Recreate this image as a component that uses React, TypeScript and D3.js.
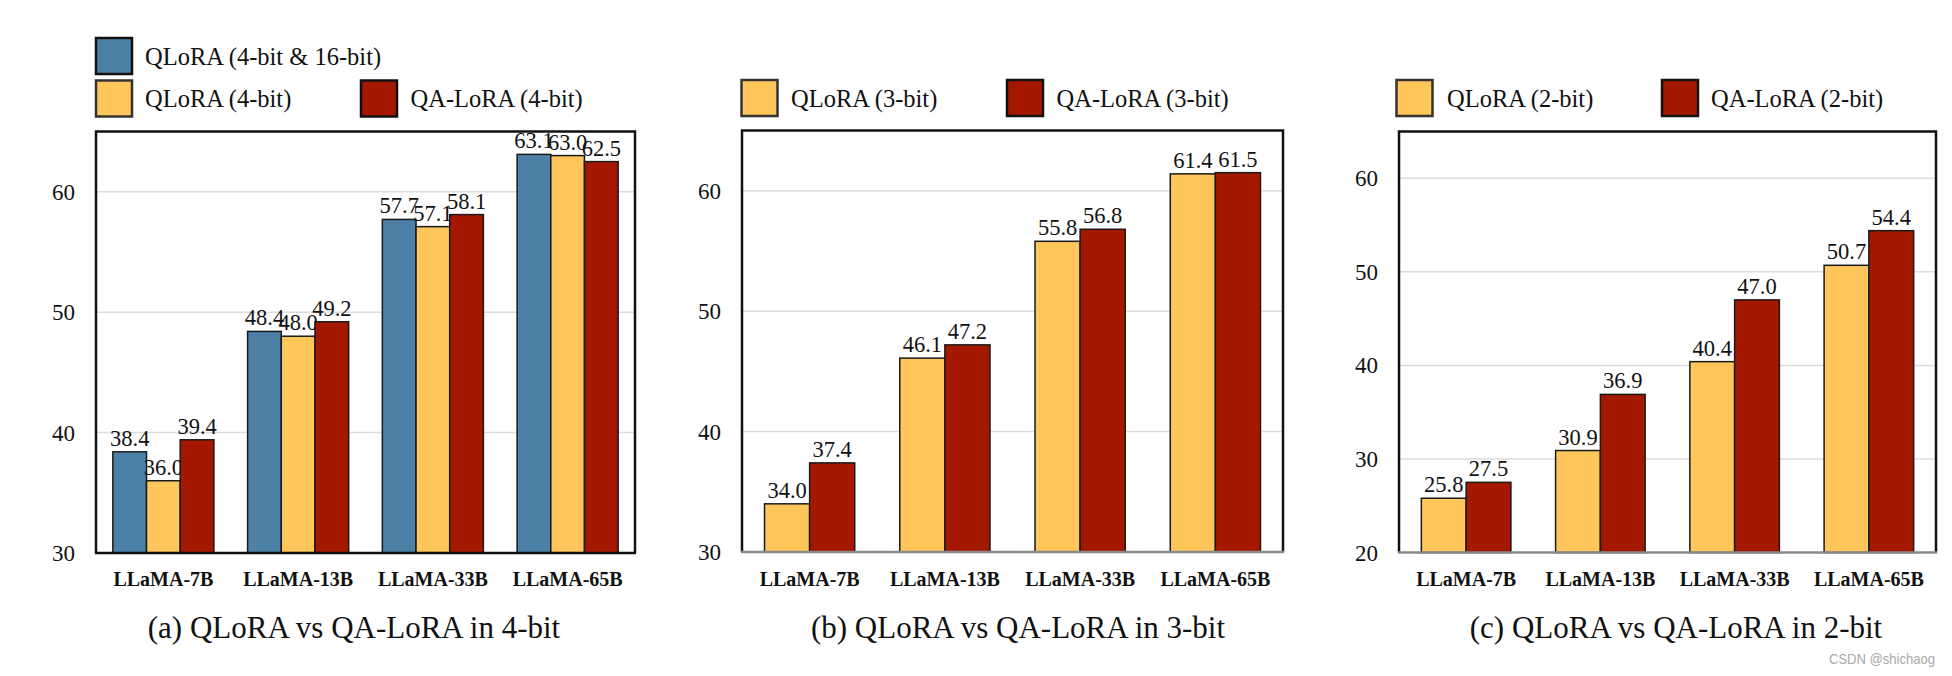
import React from 'react';
import * as d3 from 'd3';

const categories = ['LLaMA-7B', 'LLaMA-13B', 'LLaMA-33B', 'LLaMA-65B'];

const qlora4and16 = [38.4, 48.4, 57.7, 63.1];
const qlora4 = [36.0, 48.0, 57.1, 63.0];
const qalora4 = [39.4, 49.2, 58.1, 62.5];

const qlora3 = [34.0, 46.1, 55.8, 61.4];
const qalora3 = [37.4, 47.2, 56.8, 61.5];

const qlora2 = [25.8, 30.9, 40.4, 50.7];
const qalora2 = [27.5, 36.9, 47.0, 54.4];

const ticksAB = [30, 40, 50, 60];
const ticksC = [20, 30, 40, 50, 60];

const titles = [
  '(a) QLoRA vs QA-LoRA in 4-bit',
  '(b) QLoRA vs QA-LoRA in 3-bit',
  '(c) QLoRA vs QA-LoRA in 2-bit',
];

const BLUE = '#4D80A6';
const YELLOW = '#FEC65B';
const RED = '#A51800';

type Series = { name: string; values: number[]; color: string };
type LegendItem = { name: string; color: string; x: number; y: number; tx: number };
type Panel = {
  left: number; right: number; top: number; bottom: number;
  domain: [number, number]; ticks: number[];
  series: Series[]; groupFrac: number;
  legend: LegendItem[]; title: string; titleX: number; bottomColor: string;
};

const panels: Panel[] = [
  {
    left: 96, right: 635, top: 131.5, bottom: 553, domain: [30, 65], ticks: ticksAB,
    series: [
      { name: 'QLoRA (4-bit & 16-bit)', values: qlora4and16, color: BLUE },
      { name: 'QLoRA (4-bit)', values: qlora4, color: YELLOW },
      { name: 'QA-LoRA (4-bit)', values: qalora4, color: RED },
    ],
    groupFrac: 0.75,
    legend: [
      { name: 'QLoRA (4-bit & 16-bit)', color: BLUE, x: 96, y: 38, tx: 145 },
      { name: 'QLoRA (4-bit)', color: YELLOW, x: 96, y: 80.5, tx: 145 },
      { name: 'QA-LoRA (4-bit)', color: RED, x: 361, y: 80.5, tx: 410.5 },
    ],
    title: titles[0], titleX: 354, bottomColor: '#111',
  },
  {
    left: 742, right: 1283, top: 130.5, bottom: 552, domain: [30, 65], ticks: ticksAB,
    series: [
      { name: 'QLoRA (3-bit)', values: qlora3, color: YELLOW },
      { name: 'QA-LoRA (3-bit)', values: qalora3, color: RED },
    ],
    groupFrac: 0.667,
    legend: [
      { name: 'QLoRA (3-bit)', color: YELLOW, x: 741.5, y: 80, tx: 791 },
      { name: 'QA-LoRA (3-bit)', color: RED, x: 1007, y: 80, tx: 1056.5 },
    ],
    title: titles[1], titleX: 1018, bottomColor: '#8a8a8a',
  },
  {
    left: 1399, right: 1936, top: 131.5, bottom: 552.5, domain: [20, 65], ticks: ticksC,
    series: [
      { name: 'QLoRA (2-bit)', values: qlora2, color: YELLOW },
      { name: 'QA-LoRA (2-bit)', values: qalora2, color: RED },
    ],
    groupFrac: 0.667,
    legend: [
      { name: 'QLoRA (2-bit)', color: YELLOW, x: 1396.5, y: 80, tx: 1447 },
      { name: 'QA-LoRA (2-bit)', color: RED, x: 1662, y: 80, tx: 1711 },
    ],
    title: titles[2], titleX: 1676, bottomColor: '#8a8a8a',
  },
];

const SERIF = '"Liberation Serif", "Times New Roman", Times, serif';

function PanelView({ p }: { p: Panel }) {
  const y = d3.scaleLinear().domain(p.domain).range([p.bottom, p.top]);
  const x0 = d3.scaleBand<string>().domain(categories).range([p.left, p.right]).padding(0);
  const bw = x0.bandwidth();
  const names = p.series.map((s) => s.name);
  const x1 = d3
    .scaleBand<string>()
    .domain(names)
    .range([(bw * (1 - p.groupFrac)) / 2, (bw * (1 + p.groupFrac)) / 2])
    .padding(0);
  return (
    <g>
      {p.ticks
        .filter((t) => t !== p.domain[0])
        .map((t) => (
          <line key={'g' + t} x1={p.left} x2={p.right} y1={y(t)} y2={y(t)} stroke="#dcdcdc" strokeWidth={1.5} />
        ))}
      {p.series.map((s) =>
        s.values.map((v, i) => {
          const bx = (x0(categories[i]) as number) + (x1(s.name) as number);
          const w = x1.bandwidth();
          return (
            <g key={s.name + i}>
              <rect x={bx} y={y(v)} width={w} height={y(p.domain[0]) - y(v)} fill={s.color} stroke="#1a1a1a" strokeWidth={1.5} />
              <text x={bx + w / 2} y={y(v) - 6} textAnchor="middle" fontFamily={SERIF} fontSize={22.5} fill="#111">
                {v.toFixed(1)}
              </text>
            </g>
          );
        })
      )}
      <path
        d={`M${p.left},${p.bottom} L${p.left},${p.top} L${p.right},${p.top} L${p.right},${p.bottom}`}
        fill="none" stroke="#111" strokeWidth={2.5}
      />
      <line x1={p.left - 1} x2={p.right + 1} y1={p.bottom} y2={p.bottom} stroke={p.bottomColor} strokeWidth={2.5} />
      {p.ticks.map((t) => (
        <text key={'t' + t} x={p.left - 21} y={y(t)} dy="0.35em" textAnchor="end" fontFamily={SERIF} fontSize={23} fill="#111">
          {t}
        </text>
      ))}
      {categories.map((c) => (
        <text key={c} x={(x0(c) as number) + bw / 2} y={586} textAnchor="middle" fontFamily={SERIF} fontWeight="bold" fontSize={20} fill="#111">
          {c}
        </text>
      ))}
      {p.legend.map((l) => (
        <g key={l.name}>
          <rect x={l.x} y={l.y} width={36} height={36} fill={l.color} stroke={l.color === YELLOW ? '#333' : '#111'} strokeWidth={2.5} />
          <text x={l.tx} y={l.y + 18} dy="0.35em" fontFamily={SERIF} fontSize={24.5} fill="#111">
            {l.name}
          </text>
        </g>
      ))}
      <text x={p.titleX} y={638} textAnchor="middle" fontFamily={SERIF} fontSize={31} fill="#111">
        {p.title}
      </text>
    </g>
  );
}

export default function App() {
  return (
    <svg
      width={1952}
      height={676}
      viewBox="0 0 1952 676"
      style={{ position: 'absolute', left: 0, top: 0, background: '#fff', display: 'block' }}
    >
      <rect x={0} y={0} width={1952} height={676} fill="#fff" />
      {panels.map((p, i) => (
        <PanelView key={i} p={p} />
      ))}
      <text x={1829} y={664} fontFamily='"Liberation Sans", Arial, sans-serif' fontSize={15} fill="#a8a8a8" textLength={106} lengthAdjust="spacingAndGlyphs">
        CSDN @shichaog
      </text>
    </svg>
  );
}
